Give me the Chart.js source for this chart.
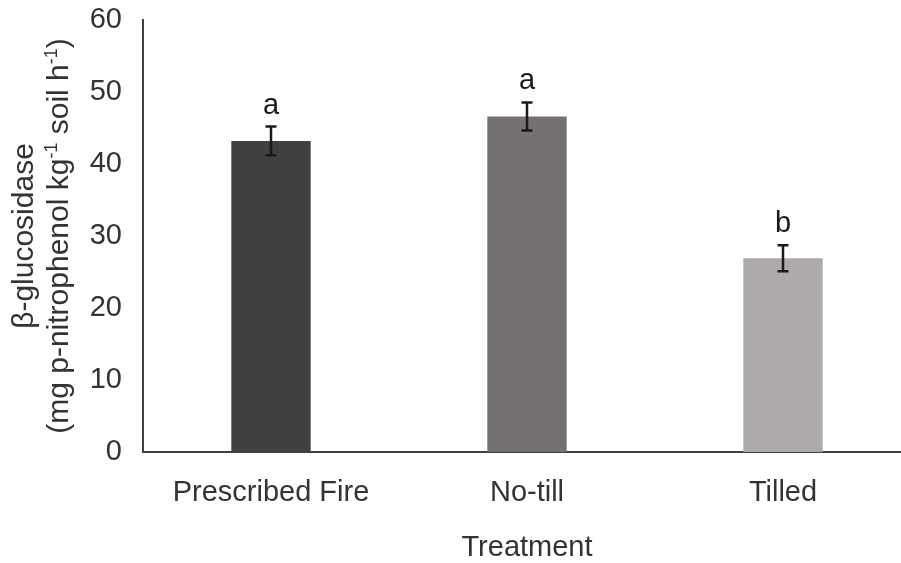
<!DOCTYPE html>
<html>
<head>
<meta charset="utf-8">
<script src="https://cdn.jsdelivr.net/npm/chart.js@4"></script>
<style>
  html, body { margin: 0; padding: 0; background: #fff; overflow: hidden; }
  canvas { display: block; }
</style>
</head>
<body>
<canvas id="chart" width="911" height="563"></canvas>
<script>
// Data
const categories = ['Prescribed Fire', 'No-till', 'Tilled'];
const means = [43.2, 46.6, 26.9];
const errors = [2.0, 1.95, 1.8];
const letters = ['a', 'a', 'b'];
const barColors = ['#404040', '#767171', '#aeaaaa'];
const yTicks = [0, 10, 20, 30, 40, 50, 60];

const FONT = 'Arial, "Liberation Sans", sans-serif';
const TEXT = '#333333';

// draw a line of text with superscript pieces, centred at cx
function drawRich(ctx, parts, cx, baseline, size) {
    const supSize = Math.round(size * 0.6);
    let total = 0;
    parts.forEach(p => {
        ctx.font = (p.sup ? supSize : size) + 'px ' + FONT;
        p.w = ctx.measureText(p.t).width;
        total += p.w;
    });
    let x = cx - total / 2;
    parts.forEach(p => {
        ctx.font = (p.sup ? supSize : size) + 'px ' + FONT;
        ctx.fillText(p.t, x, p.sup ? baseline - size * 0.38 : baseline);
        x += p.w;
    });
}

const annotate = {
    id: 'annotate',
    afterDatasetsDraw(chart) {
        const { ctx, scales: { x, y }, chartArea } = chart;
        ctx.save();

        // error bars + significance letters
        ctx.strokeStyle = '#1a1a1a';
        ctx.lineWidth = 2.5;
        ctx.fillStyle = '#1a1a1a';
        ctx.textAlign = 'center';
        ctx.textBaseline = 'alphabetic';
        ctx.font = '29px ' + FONT;
        means.forEach((m, i) => {
            const px = x.getPixelForValue(i);
            const top = y.getPixelForValue(m + errors[i]);
            const bot = y.getPixelForValue(m - errors[i]);
            ctx.beginPath();
            ctx.moveTo(px, top); ctx.lineTo(px, bot);
            ctx.moveTo(px - 5.5, top); ctx.lineTo(px + 5.5, top);
            ctx.moveTo(px - 5.5, bot); ctx.lineTo(px + 5.5, bot);
            ctx.stroke();
            ctx.fillText(letters[i], px, top - 13);
        });

        // x axis title
        ctx.fillStyle = TEXT;
        ctx.font = '29px ' + FONT;
        ctx.fillText('Treatment', (chartArea.left + chartArea.right) / 2, 556);

        // y axis title, two lines, rotated
        const cy = (chartArea.top + chartArea.bottom) / 2;
        ctx.translate(0, cy);
        ctx.rotate(-Math.PI / 2);
        ctx.textAlign = 'left';
        drawRich(ctx, [{ t: 'β-glucosidase' }], 0, 33, 30);
        drawRich(ctx, [
            { t: '(mg p-nitrophenol kg' }, { t: '-1', sup: true },
            { t: ' soil h' }, { t: '-1', sup: true }, { t: ')' }
        ], 0, 68, 30);
        ctx.restore();
    }
};

new Chart(document.getElementById('chart'), {
    type: 'bar',
    data: {
        labels: categories,
        datasets: [{
            data: means,
            backgroundColor: barColors,
            borderWidth: 0,
            barPercentage: 0.31,
            categoryPercentage: 1
        }]
    },
    options: {
        responsive: false,
        animation: false,
        layout: { padding: { top: 20, right: 0, left: 0, bottom: 0 } },
        plugins: { legend: { display: false }, tooltip: { enabled: false } },
        scales: {
            x: {
                grid: { display: false, drawTicks: false },
                border: { display: true, color: '#404040', width: 2 },
                ticks: { color: TEXT, font: { size: 29, family: FONT }, padding: 24 },
                afterFit(s) { s.height = 111; s.paddingLeft = 0; s.paddingRight = 0; }
            },
            y: {
                min: 0, max: 60,
                grid: { display: false, drawTicks: false },
                border: { display: true, color: '#404040', width: 2 },
                ticks: { color: TEXT, font: { size: 29, family: FONT }, padding: 21 },
                afterBuildTicks(s) { s.ticks = yTicks.map(v => ({ value: v })); },
                afterFit(s) { s.width = 143; s.paddingTop = 0; s.paddingBottom = 0; }
            }
        }
    },
    plugins: [annotate]
});
</script>
</body>
</html>
